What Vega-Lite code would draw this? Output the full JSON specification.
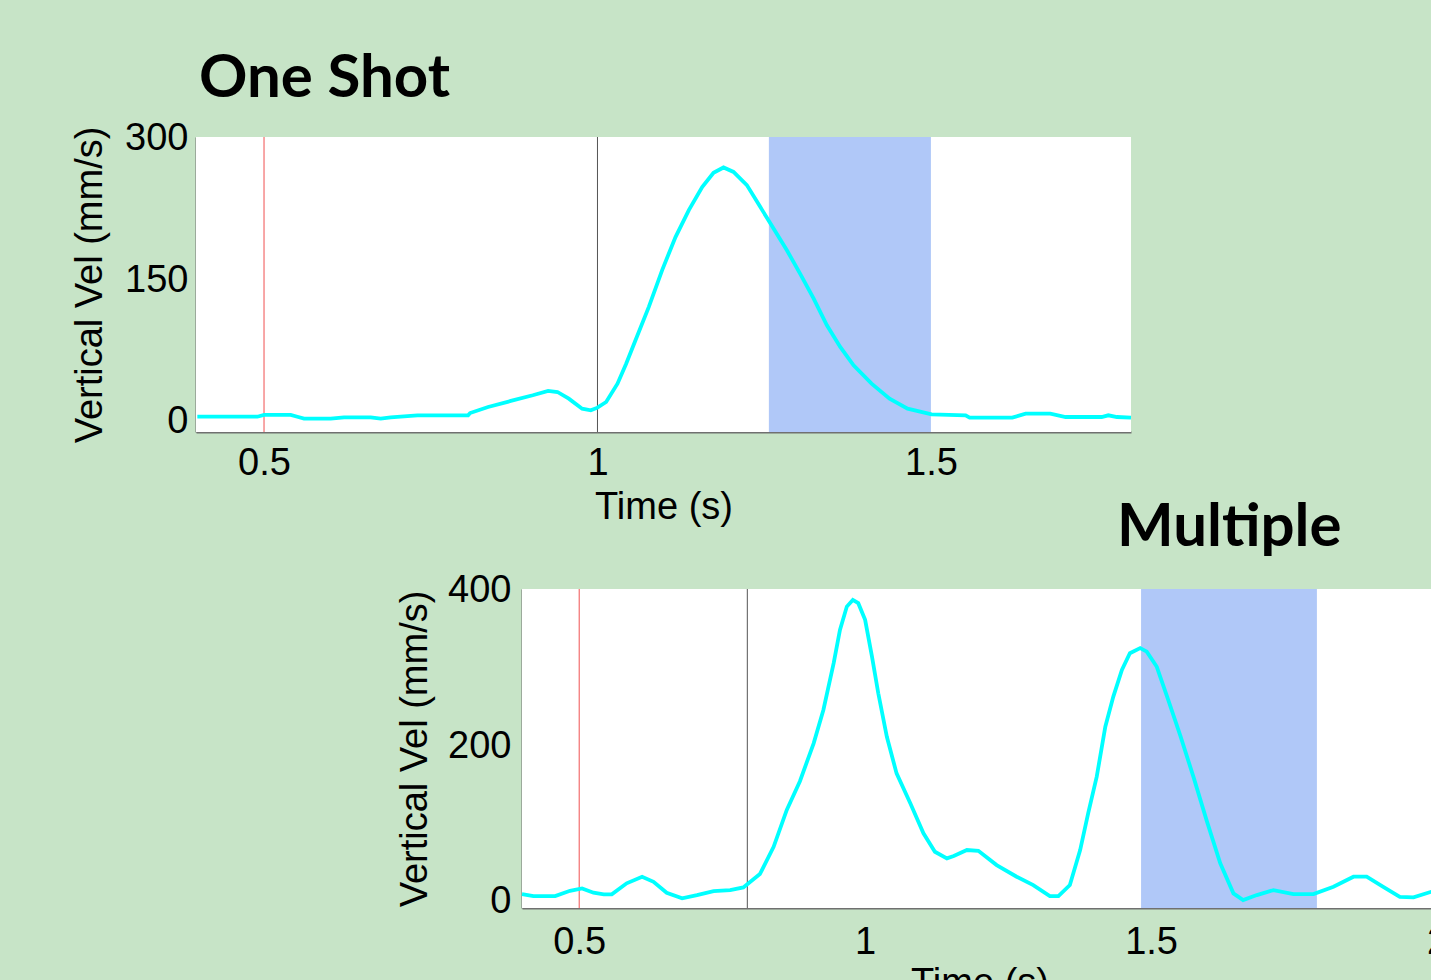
{
  "$schema": "https://vega.github.io/schema/vega-lite/v6.json",
  "padding": 0,
  "background": "#c7e4c7",
  "config": {
    "view": {"stroke": null},
    "axis": {
      "domainColor": "#707070",
      "domainWidth": 2,
      "tickColor": "#000000",
      "tickWidth": 2,
      "tickSize": -5,
      "labelFont": "Liberation Sans",
      "labelFontSize": 38,
      "labelColor": "#000000",
      "titleFont": "Liberation Sans",
      "titleFontSize": 38,
      "titleFontWeight": "normal",
      "titleColor": "#000000",
      "grid": false,
      "labelFlush": false,
      "labelOverlap": false,
      "zindex": 1
    }
  },
  "datasets": {
    "oneShot": [
      {"t": 0.40, "v": 5.6}, {"t": 0.45, "v": 5.6}, {"t": 0.49, "v": 5.6}, {"t": 0.50, "v": 7.5},
      {"t": 0.54, "v": 7.5}, {"t": 0.55, "v": 5.6}, {"t": 0.56, "v": 3.5}, {"t": 0.60, "v": 3.5},
      {"t": 0.62, "v": 5.0}, {"t": 0.66, "v": 5.0}, {"t": 0.675, "v": 3.5}, {"t": 0.69, "v": 5.0},
      {"t": 0.73, "v": 7.0}, {"t": 0.77, "v": 7.1}, {"t": 0.806, "v": 7.1}, {"t": 0.809, "v": 9.5},
      {"t": 0.836, "v": 15.9}, {"t": 0.870, "v": 22.3}, {"t": 0.903, "v": 28.3}, {"t": 0.926, "v": 32.9},
      {"t": 0.940, "v": 31.8}, {"t": 0.957, "v": 24.7}, {"t": 0.977, "v": 14.1}, {"t": 0.990, "v": 12.4},
      {"t": 1.000, "v": 15.2}, {"t": 1.013, "v": 21.2}, {"t": 1.030, "v": 40.6}, {"t": 1.043, "v": 61.8},
      {"t": 1.057, "v": 86.6}, {"t": 1.077, "v": 122}, {"t": 1.097, "v": 161}, {"t": 1.117, "v": 196},
      {"t": 1.137, "v": 224.5}, {"t": 1.157, "v": 249}, {"t": 1.174, "v": 264}, {"t": 1.189, "v": 269.7},
      {"t": 1.204, "v": 265}, {"t": 1.224, "v": 251}, {"t": 1.244, "v": 228}, {"t": 1.261, "v": 208.5},
      {"t": 1.284, "v": 182}, {"t": 1.304, "v": 157}, {"t": 1.324, "v": 131}, {"t": 1.344, "v": 102.5},
      {"t": 1.364, "v": 79.5}, {"t": 1.384, "v": 60}, {"t": 1.411, "v": 40.6}, {"t": 1.438, "v": 24.7},
      {"t": 1.465, "v": 14.1}, {"t": 1.501, "v": 8.1}, {"t": 1.552, "v": 7.1}, {"t": 1.558, "v": 4.6},
      {"t": 1.622, "v": 4.6}, {"t": 1.642, "v": 8.8}, {"t": 1.679, "v": 8.8}, {"t": 1.702, "v": 5.3},
      {"t": 1.756, "v": 5.3}, {"t": 1.766, "v": 7.1}, {"t": 1.779, "v": 5.3}, {"t": 1.80, "v": 4.6}
    ],
    "multiple": [
      {"t": 0.400, "v": 9.9}, {"t": 0.420, "v": 7.3}, {"t": 0.458, "v": 7.3}, {"t": 0.484, "v": 14.1},
      {"t": 0.505, "v": 17.2}, {"t": 0.525, "v": 11.6}, {"t": 0.543, "v": 9.5}, {"t": 0.557, "v": 9.5},
      {"t": 0.583, "v": 23.7}, {"t": 0.610, "v": 32.2}, {"t": 0.630, "v": 25.7}, {"t": 0.653, "v": 11.6},
      {"t": 0.680, "v": 4.4}, {"t": 0.706, "v": 8.6}, {"t": 0.735, "v": 13.8}, {"t": 0.764, "v": 15.0},
      {"t": 0.787, "v": 18.5}, {"t": 0.816, "v": 35.6}, {"t": 0.840, "v": 70.7}, {"t": 0.863, "v": 118},
      {"t": 0.886, "v": 155}, {"t": 0.910, "v": 203.7}, {"t": 0.927, "v": 246.6}, {"t": 0.945, "v": 306.6},
      {"t": 0.956, "v": 349.5}, {"t": 0.968, "v": 379.4}, {"t": 0.9785, "v": 388}, {"t": 0.988, "v": 383.8},
      {"t": 1.000, "v": 362.3}, {"t": 1.012, "v": 315}, {"t": 1.023, "v": 268}, {"t": 1.038, "v": 212},
      {"t": 1.055, "v": 165}, {"t": 1.079, "v": 126.6}, {"t": 1.102, "v": 88}, {"t": 1.122, "v": 64.3},
      {"t": 1.143, "v": 55.8}, {"t": 1.155, "v": 58.8}, {"t": 1.178, "v": 66.5}, {"t": 1.198, "v": 65.6},
      {"t": 1.230, "v": 47.2}, {"t": 1.265, "v": 32.2}, {"t": 1.294, "v": 21.5}, {"t": 1.323, "v": 7.3},
      {"t": 1.338, "v": 7.3}, {"t": 1.358, "v": 21.5}, {"t": 1.376, "v": 66.5}, {"t": 1.390, "v": 113.7},
      {"t": 1.405, "v": 160.8}, {"t": 1.420, "v": 225}, {"t": 1.434, "v": 263.7}, {"t": 1.449, "v": 298},
      {"t": 1.463, "v": 319.5}, {"t": 1.481, "v": 326}, {"t": 1.4925, "v": 321.5}, {"t": 1.510, "v": 302},
      {"t": 1.530, "v": 259.4}, {"t": 1.551, "v": 214}, {"t": 1.574, "v": 160.8}, {"t": 1.597, "v": 105},
      {"t": 1.621, "v": 49.4}, {"t": 1.644, "v": 10.8}, {"t": 1.661, "v": 2.2}, {"t": 1.685, "v": 8.6},
      {"t": 1.714, "v": 15}, {"t": 1.749, "v": 9.9}, {"t": 1.784, "v": 9.9}, {"t": 1.819, "v": 19.3},
      {"t": 1.854, "v": 32.2}, {"t": 1.877, "v": 32.2}, {"t": 1.906, "v": 19.3}, {"t": 1.935, "v": 6.4},
      {"t": 1.959, "v": 5.7}, {"t": 1.990, "v": 12.9}, {"t": 2.000, "v": 14}
    ]
  },
  "bounds": "flush",
  "spacing": 0,
  "vconcat": [
    {"width": 1, "height": 137, "data": {"values": []}, "mark": {"type": "point", "opacity": 0}},
    {
      "width": 1131,
      "height": 295,
      "title": {"text": "One Shot", "anchor": "start", "frame": "group", "font": "Lato", "fontSize": 60, "fontWeight": "bold", "color": "#000000", "baseline": "alphabetic", "offset": 20, "dx": 199, "dy": 57},
      "layer": [
        {
          "data": {"values": [{"start": 0.398, "end": 1.8}]},
          "mark": {"type": "rect", "color": "#ffffff"},
          "encoding": {
            "x": {"field": "start", "type": "quantitative", "scale": {"domain": [0.398, 1.8], "range": [196, 1131], "nice": false, "zero": false}, "title": "Time (s)"},
            "x2": {"field": "end"}
          }
        },
        {
          "data": {"values": [{"start": 1.257, "end": 1.5}]},
          "mark": {"type": "rect", "color": "#b0c8f8"},
          "encoding": {
            "x": {"field": "start", "type": "quantitative", "scale": {"domain": [0.398, 1.8], "range": [196, 1131], "nice": false, "zero": false}, "title": "Time (s)"},
            "x2": {"field": "end"}
          }
        },
        {
          "data": {"values": [{"t": 0.5}]},
          "mark": {"type": "rule", "color": "#f05050", "strokeWidth": 1},
          "encoding": {"x": {"field": "t", "type": "quantitative", "scale": {"domain": [0.398, 1.8], "range": [196, 1131], "nice": false, "zero": false}, "title": "Time (s)"}}
        },
        {
          "data": {"values": [{"t": 1.0}]},
          "mark": {"type": "rule", "color": "#555555", "strokeWidth": 1},
          "encoding": {"x": {"field": "t", "type": "quantitative", "scale": {"domain": [0.398, 1.8], "range": [196, 1131], "nice": false, "zero": false}, "title": "Time (s)"}}
        },
        {
          "data": {"name": "oneShot"},
          "mark": {"type": "line", "color": "#00ffff", "strokeWidth": 3.8},
          "encoding": {
            "x": {"field": "t", "type": "quantitative", "scale": {"domain": [0.398, 1.8], "range": [196, 1131], "nice": false, "zero": false}, "title": "Time (s)",
                  "axis": {"values": [0.5, 1, 1.5], "labelExpr": "'' + datum.value", "labelPadding": 17, "titlePadding": 6}},
            "y": {"field": "v", "type": "quantitative", "scale": {"domain": [-10.6, 302], "nice": false, "zero": false}, "title": "Vertical Vel (mm/s)",
                  "axis": {"values": [0, 150, 300], "labelPadding": 13, "titlePadding": 15, "offset": -196}}
          }
        }
      ]
    },
    {"width": 1, "height": 157, "data": {"values": []}, "mark": {"type": "point", "opacity": 0}},
    {
      "width": 1437,
      "height": 319,
      "title": {"text": "Multiple", "anchor": "start", "frame": "group", "font": "Lato", "fontSize": 60, "fontWeight": "bold", "color": "#000000", "baseline": "alphabetic", "offset": 22, "dx": 1117, "dy": 56},
      "layer": [
        {
          "data": {"values": [{"start": 0.4, "end": 2.0}]},
          "mark": {"type": "rect", "color": "#ffffff"},
          "encoding": {
            "x": {"field": "start", "type": "quantitative", "scale": {"domain": [0.4, 2.0], "range": [522, 1437], "nice": false, "zero": false}, "title": "Time (s)"},
            "x2": {"field": "end"}
          }
        },
        {
          "data": {"values": [{"start": 1.4825, "end": 1.79}]},
          "mark": {"type": "rect", "color": "#b0c8f8"},
          "encoding": {
            "x": {"field": "start", "type": "quantitative", "scale": {"domain": [0.4, 2.0], "range": [522, 1437], "nice": false, "zero": false}, "title": "Time (s)"},
            "x2": {"field": "end"}
          }
        },
        {
          "data": {"values": [{"t": 0.5}]},
          "mark": {"type": "rule", "color": "#f05050", "strokeWidth": 1},
          "encoding": {"x": {"field": "t", "type": "quantitative", "scale": {"domain": [0.4, 2.0], "range": [522, 1437], "nice": false, "zero": false}, "title": "Time (s)"}}
        },
        {
          "data": {"values": [{"t": 0.794}]},
          "mark": {"type": "rule", "color": "#555555", "strokeWidth": 1},
          "encoding": {"x": {"field": "t", "type": "quantitative", "scale": {"domain": [0.4, 2.0], "range": [522, 1437], "nice": false, "zero": false}, "title": "Time (s)"}}
        },
        {
          "data": {"name": "multiple"},
          "mark": {"type": "line", "color": "#00ffff", "strokeWidth": 3.8},
          "encoding": {
            "x": {"field": "t", "type": "quantitative", "scale": {"domain": [0.4, 2.0], "range": [522, 1437], "nice": false, "zero": false}, "title": "Time (s)",
                  "axis": {"values": [0.5, 1, 1.5, 2], "labelExpr": "'' + datum.value", "labelPadding": 20, "titlePadding": 3}},
            "y": {"field": "v", "type": "quantitative", "scale": {"domain": [-8, 402], "nice": false, "zero": false}, "title": "Vertical Vel (mm/s)",
                  "axis": {"values": [0, 200, 400], "labelPadding": 16, "titlePadding": 13, "offset": -522}}
          }
        }
      ]
    }
  ]
}
